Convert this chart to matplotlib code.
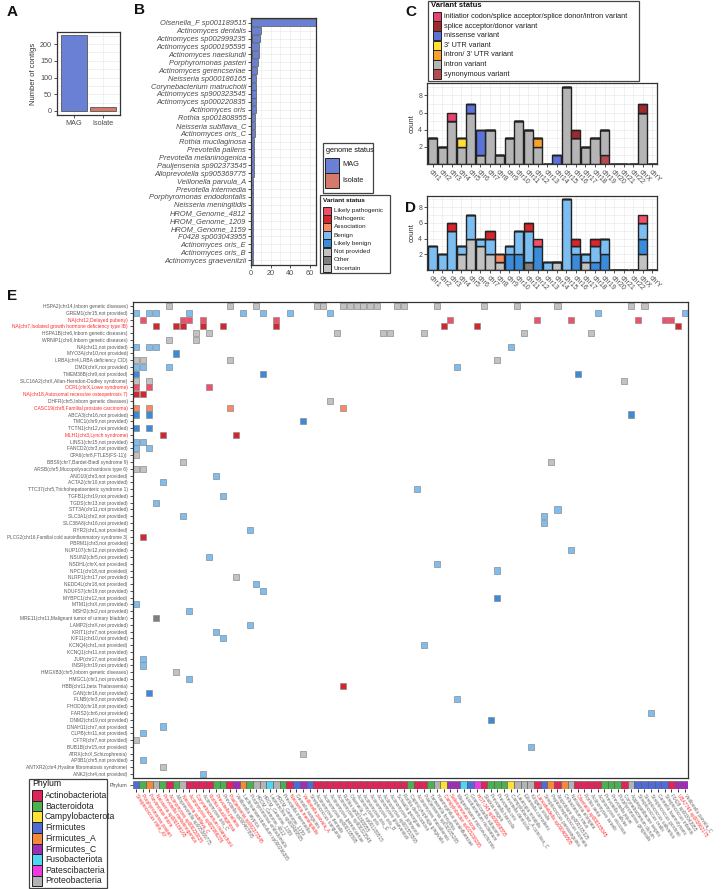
import matplotlib
matplotlib.use("Agg")
import matplotlib.pyplot as plt
from matplotlib.patches import Rectangle

plt.rcParams['font.family'] = ['Liberation Sans', 'DejaVu Sans']

W, H = 722, 889

# ---------------- data ----------------
# panel A
genome_types = ["MAG", "Isolate"]
genome_counts = [228, 13]

# panel B (top to bottom)
species_b = ["Olsenella_F sp001189515", "Actinomyces dentalis", "Actinomyces sp002999235",
             "Actinomyces sp000195595", "Actinomyces naeslundii", "Porphyromonas pasteri",
             "Actinomyces gerencseriae", "Neisseria sp000186165", "Corynebacterium matruchotii",
             "Actinomyces sp900323545", "Actinomyces sp000220835", "Actinomyces oris",
             "Rothia sp001808955", "Neisseria subflava_C", "Actinomyces oris_C",
             "Rothia mucilaginosa", "Prevotella pallens", "Prevotella melaninogenica",
             "Pauljensenia sp902373545", "Alloprevotella sp905369775", "Veillonella parvula_A",
             "Prevotella intermedia", "Porphyromonas endodontalis", "Neisseria meningitidis",
             "HROM_Genome_4812", "HROM_Genome_1209", "HROM_Genome_1159", "F0428 sp003043955",
             "Actinomyces oris_E", "Actinomyces oris_B", "Actinomyces graevenitzii"]
mag_b = [66, 10, 8, 8, 7, 7, 6, 5, 5, 5, 5, 5, 4, 4, 4, 3, 3, 3, 3, 3,
         2, 2, 2, 2, 2, 2, 2, 2, 2, 2, 2]
iso_b = [0, 0, 1, 0, 1, 0, 0, 0, 0, 0, 0, 0, 0, 0, 0, 0, 0, 0, 0, 0,
         0, 0, 0, 0, 0, 0, 0, 0, 0, 0, 0]

# panels C and D
chroms = ["chr1", "chr2", "chr3", "chr4", "chr5", "chr6", "chr7", "chr8", "chr9", "chr10",
          "chr11", "chr12", "chr13", "chr14", "chr15", "chr16", "chr17", "chr18", "chr19",
          "chr20", "chr21", "chr22", "chrX", "chrY"]
c_initiator = [0, 0, 1, 0, 0, 0, 0, 0, 0, 0, 0, 0, 0, 0, 0, 0, 0, 0, 0, 0, 0, 0, 0, 0]
c_splice = [0, 0, 0, 0, 0, 0, 0, 0, 0, 0, 0, 0, 0, 0, 0, 1, 0, 0, 0, 0, 0, 0, 1, 0]
c_missense = [0, 0, 0, 0, 1, 3, 0, 0, 0, 0, 0, 0, 0, 1, 0, 0, 0, 0, 0, 0, 0, 0, 0, 0]
c_utr3 = [0, 0, 0, 1, 0, 0, 0, 0, 0, 0, 0, 0, 0, 0, 0, 0, 0, 0, 0, 0, 0, 0, 0, 0]
c_intron_utr3 = [0, 0, 0, 0, 0, 0, 0, 0, 0, 0, 0, 1, 0, 0, 0, 0, 0, 0, 0, 0, 0, 0, 0, 0]
c_intron = [3, 2, 5, 2, 6, 1, 4, 1, 3, 5, 4, 2, 0, 0, 9, 3, 2, 3, 3, 0, 0, 0, 6, 0]
c_synonymous = [0, 0, 0, 0, 0, 0, 0, 0, 0, 0, 0, 0, 0, 0, 0, 0, 0, 0, 1, 0, 0, 0, 0, 0]

d_likely_path = [0, 0, 0, 0, 0, 0, 0, 0, 0, 0, 0, 1, 0, 0, 0, 0, 0, 0, 0, 0, 0, 0, 1, 0]
d_path = [0, 0, 1, 0, 0, 0, 1, 0, 0, 0, 1, 0, 0, 0, 0, 1, 0, 1, 0, 0, 0, 0, 0, 0]
d_assoc = [0, 0, 0, 0, 0, 0, 0, 1, 0, 0, 0, 0, 0, 0, 0, 0, 0, 0, 0, 0, 0, 0, 0, 0]
d_benign = [3, 2, 5, 1, 3, 1, 2, 0, 1, 3, 4, 0, 1, 0, 9, 1, 1, 2, 2, 0, 0, 0, 2, 0]
d_likely_benign = [0, 0, 0, 0, 0, 0, 0, 0, 2, 2, 0, 3, 0, 0, 0, 2, 0, 1, 2, 0, 0, 0, 2, 0]
d_not_provided = [0, 0, 0, 2, 4, 3, 2, 1, 0, 0, 0, 0, 0, 1, 0, 0, 1, 0, 0, 0, 0, 0, 2, 0]
d_other = [0, 0, 0, 0, 0, 0, 0, 0, 0, 0, 1, 0, 0, 0, 0, 0, 0, 0, 0, 0, 0, 0, 0, 0]
d_uncertain = [0] * 24

# panel E
e_genes = ["HSPA2(chr14,Inborn genetic diseases)", "GREM1(chr15,not provided)",
           "NA(chr12,Delayed puberty)", "NA(chr7,Isolated growth hormone deficiency type IB)",
           "HSPA1B(chr6,Inborn genetic diseases)", "WRNIP1(chr6,Inborn genetic diseases)",
           "NA(chr11,not provided)", "MYO3A(chr10,not provided)", "LRBA(chr4,LRBA deficiency CID)",
           "DMD(chrX,not provided)", "TMEM38B(chr9,not provided)",
           "SLC16A2(chrX,Allan-Herndon-Dudley syndrome)", "OCRL(chrX,Lowe syndrome)",
           "NA(chr18,Autosomal recessive osteopetrosis 7)", "DHFR(chr5,Inborn genetic diseases)",
           "CASC19(chr8,Familial prostate carcinoma)", "ABCA3(chr16,not provided)",
           "TMC1(chr9,not provided)", "TCTN1(chr12,not provided)", "MLH1(chr3,Lynch syndrome)",
           "LINS1(chr15,not provided)", "FANCD2(chr3,not provided)", "CPA6(chr8,FTLE5(FS-11))",
           "BBS9(chr7,Bardet-Biedl syndrome 9)", "ARSB(chr5,Mucopolysaccharidosis type 6)",
           "ANO10(chr3,not provided)", "ACTA2(chr10,not provided)",
           "TTC37(chr5,Trichohepatoenteric syndrome 1)", "TGFB1(chr19,not provided)",
           "TGDS(chr13,not provided)", "STT3A(chr11,not provided)", "SLC3A1(chr2,not provided)",
           "SLC38A8(chr16,not provided)", "RYR2(chr1,not provided)",
           "PLCG2(chr16,Familial cold autoinflammatory syndrome 3)", "PBRM1(chr3,not provided)",
           "NUP107(chr12,not provided)", "NSUN2(chr5,not provided)", "NSDHL(chrX,not provided)",
           "NPC1(chr18,not provided)", "NLRP1(chr17,not provided)", "NEDD4L(chr18,not provided)",
           "NDUFS7(chr19,not provided)", "MYBPC1(chr12,not provided)", "MTM1(chrX,not provided)",
           "MSH2(chr2,not provided)", "MRE11(chr11,Malignant tumor of urinary bladder)",
           "LAMP2(chrX,not provided)", "KRIT1(chr7,not provided)", "KIF11(chr10,not provided)",
           "KCNQ4(chr1,not provided)", "KCNQ1(chr11,not provided)", "JUP(chr17,not provided)",
           "INSR(chr19,not provided)", "HMGXB3(chr5,Inborn genetic diseases)",
           "HMGCL(chr1,not provided)", "HBB(chr11,beta Thalassemia)", "GAN(chr16,not provided)",
           "FLNB(chr3,not provided)", "FHOD3(chr18,not provided)", "FARS2(chr6,not provided)",
           "DNM2(chr19,not provided)", "DNAH11(chr7,not provided)", "CLPB(chr11,not provided)",
           "CFTR(chr7,not provided)", "BUB1B(chr15,not provided)", "ATRX(chrX,Schizophrenia)",
           "AP3B1(chr5,not provided)", "ANTXR2(chr4,Hyaline fibromatosis syndrome)",
           "ANK2(chr4,not provided)"]
e_red_genes = [2, 3, 12, 13, 15, 19]
e_status = ["NP", "B", "LP", "P", "NP", "NP", "B", "LB", "NP", "B",
            "LB", "NP", "LP", "P", "NP", "A", "LB", "LB", "LB", "P",
            "B", "B", "NP", "NP", "NP", "B", "B", "B", "B", "B",
            "B", "B", "B", "B", "P", "B", "B", "B", "B", "B",
            "NP", "B", "B", "LB", "B", "B", "O", "B", "B", "B",
            "B", "B", "B", "B", "NP", "B", "P", "LB", "B", "B",
            "B", "LB", "B", "B", "NP", "B", "NP", "B", "NP", "B"]
e_hits = [
    [5, 14, 18, 27, 28, 31, 32, 33, 34, 35, 36, 39, 40, 45, 52, 57, 63, 74, 76],
    [0, 2, 3, 8, 16, 19, 23, 29, 69, 82],
    [1, 7, 8, 10, 21, 47, 60, 65, 75, 79, 80],
    [3, 6, 7, 10, 13, 21, 46, 51, 81],
    [9, 11, 30, 37, 38, 43, 58, 68],
    [5, 9],
    [0, 2, 3, 56],
    [6],
    [0, 1, 14, 54],
    [0, 1, 5, 48],
    [0, 19, 66],
    [0, 2, 73],
    [0, 2, 11],
    [0, 1],
    [29],
    [0, 2, 14, 31],
    [0, 2, 74],
    [25],
    [0, 2],
    [4, 15],
    [0, 1],
    [0, 2],
    [0],
    [7, 62],
    [0, 1],
    [12],
    [4],
    [42],
    [13],
    [3],
    [63],
    [7, 61],
    [61],
    [17],
    [1],
    [],
    [65],
    [11],
    [45],
    [54],
    [15],
    [18],
    [19],
    [54],
    [0],
    [8],
    [3],
    [17],
    [12],
    [13],
    [43],
    [],
    [1],
    [1],
    [6],
    [8],
    [31],
    [2],
    [48],
    [],
    [77],
    [53],
    [4],
    [1],
    [0],
    [59],
    [25],
    [1],
    [4],
    [10],
]

phyla = ["Actinobacteriota", "Bacteroidota", "Campylobacterota", "Firmicutes", "Firmicutes_A",
         "Firmicutes_C", "Fusobacteriota", "Patescibacteria", "Proteobacteria"]
e_species = ["Streptococcus mitis_AY", "Porphyromonas pasteri", "Parvimonas micra",
             "Neisseria sp000186165", "Prevotella melaninogenica", "Actinomyces sp000220835",
             "Alloprevotella sp905369775", "Neisseria subflava_C", "Actinomyces sp002999235",
             "Corynebacterium matruchotii", "Actinomyces oris_C", "Rothia mucilaginosa",
             "Prevotella pallens", "Prevotella sp000467895", "Pauljensenia sp902373545",
             "Veillonella atypica", "Lachnoanaerobaculum sp000296385", "Porphyromonas endodontalis",
             "HROM_Genome_4812", "HROM_Genome_1209", "Leptotrichia sp000469505", "HROM_Genome_1159",
             "Prevotella intermedia", "Neisseria meningitidis", "Gemella sanguinis",
             "Veillonella parvula_A", "Streptococcus sanguinis", "Actinomyces dentalis",
             "Actinomyces sp000195595", "Actinomyces gerencseriae", "Actinomyces sp900323545",
             "Rothia sp001808955", "Olsenella_F sp001189515", "Actinomyces oris",
             "Actinomyces oris_E", "Actinomyces oris_B", "Actinomyces graevenitzii",
             "Actinomyces sp001553565", "Actinomyces johnsonii", "Schaalia georgiae",
             "Rothia dentocariosa", "Capnocytophaga gingivalis", "Actinomyces massiliensis",
             "Pauljensenia sp000185285", "Tannerella forsythia", "Haemophilus parainfluenzae",
             "Campylobacter sp015208265", "Selenomonas noxia", "Megasphaera micronuciformis",
             "Fusobacterium nucleatum", "Granulicatella adiacens", "HOT-345 sp000668555",
             "Slackia exigua", "Prevotella histicola", "Prevotella oris", "Prevotella denticola",
             "Campylobacter_A concisus_C", "Lautropia mirabilis", "Eikenella corrodens",
             "Kingella oralis", "Lancefieldella sp000469505", "Streptococcus parasanguinis",
             "Peptostreptococcus stomatis", "Atopobium sp000185325", "Oribacterium sinus",
             "Neisseria elongata", "Olsenella sp000185045", "Rothia aeria",
             "Actinomyces israelii", "Actinomyces viscosus", "Prevotella salivae",
             "Prevotella jejuni", "Porphyromonas gingivalis", "Corynebacterium durum",
             "Aggregatibacter segnis", "Streptococcus oralis", "Streptococcus salivarius",
             "Streptococcus gordonii", "Gemella haemolysans", "Streptococcus infantis",
             "F0428 sp003043955", "UBA7748 sp003862175", "Veillonella parvula_C"]
e_species_phylum = [3, 1, 4, 8, 1, 0, 1, 8, 0, 0, 0, 0, 1, 1, 0, 5, 4, 1, 8, 8,
                    6, 8, 1, 0, 3, 5, 3, 0, 0, 0, 0, 0, 0, 0, 0, 0, 0, 0, 0, 0,
                    0, 1, 0, 0, 1, 8, 2, 5, 5, 6, 3, 7, 0, 1, 1, 1, 2, 8, 8, 8,
                    0, 3, 4, 0, 4, 8, 0, 0, 0, 0, 1, 1, 1, 0, 8, 3, 3, 3, 3, 3,
                    0, 5, 5]
e_red_species = [0, 1, 2, 3, 4, 5, 7, 8, 9, 11, 12, 14, 23, 25, 46, 47, 51, 60, 66, 81]

# ---------------- styles ----------------
EDGE = '#333333'
TICKC = '#4D4D4D'
GRIDC = '#EBEBEB'
status_names = ["Likely pathogenic", "Pathogenic", "Association", "Benign", "Likely benign",
                "Not provided", "Other", "Uncertain"]
status_keys = ["LP", "P", "A", "B", "LB", "NP", "O", "U"]
status_cols = ['#F2506A', '#D7262B', '#F98A63', '#7CBDF2', '#3A8BDA', '#C2C2C2', '#7F7F7F', '#C8C8C8']
status_map = dict(zip(status_keys, status_cols))
c_names = ["initiatior codon/splice acceptor/splice donor/intron variant",
           "splice acceptor/donor variant", "missense variant", "3' UTR variant",
           "intron/ 3' UTR variant", "intron variant", "synonymous variant"]
c_cols = ['#E8436E', '#9E2A2B', '#5B72D9', '#FFE033', '#F9A12E', '#B5B5B5', '#B54B50']
phylum_cols = ['#E0245A', '#4CAF50', '#FFE135', '#4F6BD6', '#F28A3A', '#9C2FB5',
               '#4FD6F2', '#EE3AE2', '#B3B3B3']
genome_cols = ['#6A80D5', '#D57A6B']

fig = plt.figure(figsize=(W / 100, H / 100), dpi=100)


def px_axes(l, t, r, b):
    return fig.add_axes([l / W, 1 - b / H, (r - l) / W, (b - t) / H])


def bw_style(ax, fs=5):
    for s in ax.spines.values():
        s.set_color(EDGE)
        s.set_linewidth(0.9)
    ax.tick_params(colors=EDGE, labelcolor=TICKC, labelsize=fs, length=2, width=0.6, pad=1.5)
    ax.set_axisbelow(True)


# ---------------- panel A ----------------
axA = px_axes(57, 32, 120, 115)
bw_style(axA, 5.2)
axA.bar(range(2), genome_counts, width=0.9, color=genome_cols, edgecolor='#555555', lw=0.6)
axA.set_xlim(-0.6, 1.6)
axA.set_ylim(-12, 236)
axA.set_yticks([0, 50, 100, 150, 200])
axA.set_yticks([25, 75, 125, 175, 225], minor=True)
axA.tick_params(which='minor', length=0)
axA.set_xticks(range(2))
axA.set_xticklabels(genome_types)
axA.grid(True, which='both', color=GRIDC, lw=0.5)
axA.set_ylabel("Number of contigs", fontsize=5.5, color='#333333', labelpad=2)

# ---------------- panel B ----------------
axB = px_axes(251, 18, 316, 265)
bw_style(axB, 5.2)
yb = list(range(len(species_b)))
axB.barh(yb, iso_b, height=0.9, color=genome_cols[1], edgecolor='#555555', lw=0.5)
axB.barh(yb, mag_b, left=iso_b, height=0.9, color=genome_cols[0], edgecolor='#555555', lw=0.5)
axB.set_xlim(0, 66.5)
axB.set_ylim(len(species_b) - 0.4, -0.6)
axB.set_yticks(yb)
axB.set_yticklabels(species_b, fontstyle='italic', fontsize=5.4)
axB.set_xticks([0, 20, 40, 60])
axB.set_xticks([10, 30, 50], minor=True)
axB.tick_params(which='minor', length=0)
axB.grid(True, which='both', color=GRIDC, lw=0.5)

# ---------------- panel C ----------------
xc = list(range(len(chroms)))


def stacked(ax, layers, cols, lw):
    bottom = [0] * len(chroms)
    for vals, col in zip(layers, cols):
        ax.bar(xc, vals, bottom=bottom, width=0.95, color=col, edgecolor='#222222', lw=lw)
        bottom = [b + v for b, v in zip(bottom, vals)]


def chrom_axes(ax, ytop):
    bw_style(ax, 5)
    ax.set_xlim(-0.6, 23.5)
    ax.set_ylim(0, ytop)
    ax.set_yticks([2, 4, 6, 8])
    ax.set_yticks([1, 3, 5, 7, 9], minor=True)
    ax.tick_params(which='minor', length=0)
    ax.set_xticks(xc)
    ax.set_xticklabels(chroms, rotation=-45, ha='left', rotation_mode='anchor', fontsize=5)
    ax.grid(True, which='both', color=GRIDC, lw=0.5)
    ax.set_ylabel("count", fontsize=5.5, color='#333333', labelpad=2)


axC = px_axes(427, 83, 657, 164)
chrom_axes(axC, 9.45)
stacked(axC, [c_synonymous, c_intron, c_intron_utr3, c_utr3, c_missense, c_splice, c_initiator],
        c_cols[::-1], 1.0)

axD = px_axes(427, 196, 657, 270)
chrom_axes(axD, 9.4)
stacked(axD, [d_uncertain, d_other, d_not_provided, d_likely_benign, d_benign, d_assoc,
              d_path, d_likely_path], status_cols[::-1], 1.0)

# ---------------- panel E ----------------
ncol = len(e_species)
axE = px_axes(132.5, 302, 688, 778)
bw_style(axE, 3.5)
for r, (cols, st) in enumerate(zip(e_hits, e_status)):
    for c in cols:
        axE.add_patch(Rectangle((c - 0.45, r - 0.45), 0.9, 0.9, facecolor=status_map[st],
                                edgecolor='#8C8C8C', lw=0.5))
axE.set_xlim(-0.5, ncol - 0.5)
axE.set_ylim(len(e_genes) - 0.41, -0.59)
axE.set_xticks([])
axE.set_yticks(range(len(e_genes)))
axE.set_yticklabels(e_genes, fontsize=3.5)
for i, lab in enumerate(axE.get_yticklabels()):
    lab.set_color('#FF2A2A' if i in e_red_genes else '#5A5A5A')
    # the longest label only just fits at the left edge
    if len(lab.get_text()) > 53:
        lab.set_fontsize(3.3)

axP = px_axes(132.5, 781, 688, 789)
bw_style(axP, 3.8)
for c, p in enumerate(e_species_phylum):
    axP.add_patch(Rectangle((c - 0.5, 0), 1, 1, facecolor=phylum_cols[p], edgecolor='#555555', lw=0.4))
for s in axP.spines.values():
    s.set_visible(False)
axP.set_xlim(-0.5, ncol - 0.5)
axP.set_ylim(0, 1)
axP.set_yticks([0.5])
axP.set_yticklabels(["Phylum"], fontsize=3.8)
axP.set_xticks(range(ncol))
axP.set_xticklabels(e_species, rotation=-56, ha='left', va='center', rotation_mode='anchor',
                    fontsize=3.4)
axP.tick_params(axis='x', length=2, pad=2, colors='#111111')
for i, lab in enumerate(axP.get_xticklabels()):
    lab.set_color('#FF2A2A' if i in e_red_species else '#666666')

# ---------------- overlay: legends and panel letters ----------------
ov = fig.add_axes([0, 0, 1, 1])
ov.set_xlim(0, W)
ov.set_ylim(H, 0)
ov.axis('off')
ov.patch.set_visible(False)


def legend_box(l, t, r, b, title, labels, colors, kx, ky, kw, kh, fs, tfs, bold, title_y):
    ov.add_patch(Rectangle((l, t), r - l, b - t, fill=False, ec='#444444', lw=0.9))
    ov.text(l + 3, title_y, title, fontsize=tfs, va='center', ha='left',
            fontweight='bold' if bold else 'normal', color='#111111')
    for i, (lab, col) in enumerate(zip(labels, colors)):
        y = ky + i * kh
        ov.add_patch(Rectangle((kx, y), kw, kh, facecolor=col, edgecolor='#222222', lw=0.7))
        ov.text(kx + kw + 3, y + kh / 2, lab, fontsize=fs, va='center', ha='left', color='#222222')


legend_box(323, 143, 373, 193, "genome status", genome_types, genome_cols,
           325, 157.5, 14, 15, 5.3, 5.3, False, 151)
legend_box(320, 195, 390, 273, "Variant status", status_names, status_cols,
           322.5, 206.5, 8, 8.2, 4.6, 4.6, True, 201)
legend_box(428, 0.5, 639, 81, "Variant status", c_names, c_cols,
           433, 11.7, 8.3, 9.6, 5.3, 5.5, True, 5.5)
legend_box(29, 779, 107, 888, "Phylum", phyla, phylum_cols,
           31.5, 790, 10.5, 10.7, 6.2, 6.2, False, 784)

for letter, x, y in [("A", 7, 12), ("B", 134, 10), ("C", 405, 12), ("D", 405, 208), ("E", 7, 296)]:
    ov.text(x, y, letter, fontsize=11, fontweight='bold', va='center', ha='left', color='#111111')

fig.savefig("out.png", dpi=100)
